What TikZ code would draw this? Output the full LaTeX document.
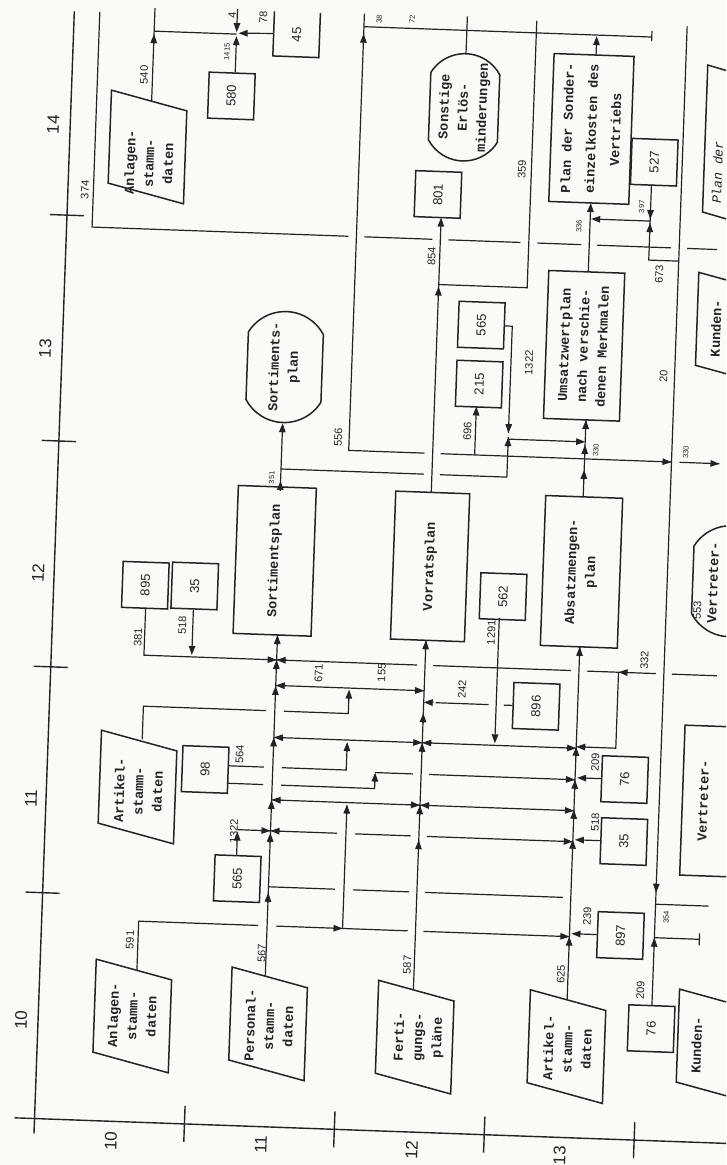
\documentclass[tikz,border=0pt]{standalone}
\usepackage{fontspec}
\usepackage{graphicx}
\setmainfont{Liberation Sans}
\newfontfamily\twf{Liberation Mono}
\usetikzlibrary{arrows.meta,shapes.misc}
\newcommand{\vt}[1]{\rotatebox{90}{\begin{tabular}{@{}c@{}}#1\end{tabular}}}
\newcommand{\vn}[1]{\rotatebox{90}{#1}}
\newcommand{\numf}{\fontsize{13}{13}\selectfont}
\newcommand{\txf}{\twf\bfseries\fontsize{13.5}{19}\selectfont}
\newcommand{\lbf}{\fontsize{11}{11}\selectfont}
\newcommand{\slf}{\fontsize{7.5}{7.5}\selectfont}
\newcommand{\axf}{\fontsize{17}{17}\selectfont}
\newcommand{\prl}[2]{\draw[pl] ({#1-38},{#2-55.5}) -- ({#1+38},{#2-37.5}) -- ({#1+38},{#2+55.5}) -- ({#1-38},{#2+37.5}) -- cycle;}
\newcommand{\tipU}[2]{\draw[ar] (#1,{#2+10}) -- (#1,#2);}
\newcommand{\tipD}[2]{\draw[ar] (#1,{#2-10}) -- (#1,#2);}
\newcommand{\tipL}[2]{\draw[ar] ({#1+10},#2) -- (#1,#2);}
\newcommand{\tipR}[2]{\draw[ar] ({#1-10},#2) -- (#1,#2);}
\definecolor{paper}{RGB}{251,250,246}
\definecolor{ink}{RGB}{35,35,35}
\begin{document}
\begin{tikzpicture}[x=1pt,y=-1pt,color=ink]
\tikzset{
 ln/.style={line width=1.2pt},
 ar/.style={line width=1.2pt, -{Triangle[length=9pt,width=6.5pt]}},
 ax/.style={line width=1.4pt},
 bx/.style={draw, line width=1.5pt, inner sep=0pt, minimum width=46pt, minimum height=46pt, font=\numf},
 tb/.style 2 args={draw, line width=1.5pt, inner sep=0pt, minimum width=#1, minimum height=#2, font=\txf},
 st/.style 2 args={draw, line width=1.5pt, rounded rectangle, rounded rectangle arc length=120, rotate=90, inner sep=0pt, minimum width=#2, minimum height=#1, align=center, font=\txf},
 pl/.style={line width=1.5pt},
 pt/.style={inner sep=0pt, font=\txf},
 lb/.style={rotate=90, inner sep=0pt, font=\lbf},
 sl/.style={rotate=90, inner sep=0pt, font=\slf},
 axl/.style={rotate=90, inner sep=0pt, font=\axf},
}
\useasboundingbox (0,0) rectangle (726,1165);
\fill[paper] (0,0) rectangle (726,1165);
\clip (0,0) rectangle (726,1165);
\begin{scope}[rotate around={-2.06:(363,582)}, transform shape]
% axes
\draw[ax] (54,22) -- (54,1145);
\foreach \t in {226,452,678,904} \draw[ax] (37,\t) -- (71,\t);
\draw[ax] (34,1130) -- (760,1130);
\foreach \t in {204,354,504,654} \draw[ax] (\t,1112) -- (\t,1148);
\node[axl] (y14) at (37,136) {14};
\node[axl] (y13) at (37,360) {13};
\node[axl] (y12) at (38,585) {12};
\node[axl] (y11) at (39,810) {11};
\node[axl] (y10) at (37,1032) {10};
\node[axl] (x10) at (131,1150) {10};
\node[axl] (x11) at (281,1148) {11};
\node[axl] (x12) at (432,1148) {12};
\node[axl] (x13) at (580,1148) {13};
% parallelograms
\prl{132}{155} \node[pt] (p1) at (135,171) {\vt{Anlagen-\\stamm-\\daten}};
\prl{145}{795} \node[pt] (p2) at (147,799) {\vt{Artikel-\\stamm-\\daten}};
\prl{148}{1024} \node[pt] (p3) at (149,1024) {\vt{Anlagen-\\stamm-\\daten}};
\prl{284}{1027} \node[pt] (p4) at (286,1029) {\vt{Personal-\\stamm-\\daten}};
\prl{431}{1035} \node[pt] (p5) at (435,1035) {\vt{Ferti-\\gungs-\\pläne}};
\prl{583}{1039} \node[pt] (p6) at (585,1041) {\vt{Artikel-\\stamm-\\daten}};
\prl{732}{1033} \node[pt] (p7) at (713,1033) {\vn{Kunden-}};
\prl{725.5}{316} \node[pt] (p8) at (706.5,316) {\vn{Kunden-}};
\draw[pl] (740,66) -- (689,53) -- (689,200) -- (740,213);
\node[pt, font=\twf\itshape\fontsize{13}{19}\selectfont] (p9) at (702.5,160) {\vn{Plan der}};
% boxes
\node[bx] (b580) at (214,101) {\vn{580}};
\draw[pl] (254,15) -- (254,59.5) -- (300,59.5) -- (300,15);
\node[pt, font=\numf] (b45) at (277,37.5) {\vn{45}};
\node[tb={78pt}{148pt}] (sortp) at (274,564) {\vn{Sortimentsplan}};
\node[tb={74pt}{148pt}] (vorr) at (429.5,564) {\vn{Vorratsplan}};
\node[tb={77pt}{150pt}] (absm) at (581,564) {\vt{Absatzmengen-\\plan}};
\node[st={75pt}{111pt}] (sortst) at (277,370) {Sortiments-\\plan};
\node[st={69pt}{105pt}] (sonst) at (447,104) {Sonstige\\Erlös-\\minderungen};
\node[bx] (b801) at (424,192) {\vn{801}};
\node[bx] (b565a) at (472,321) {\vn{565}};
\node[bx] (b215) at (472,380) {\vn{215}};
\node[tb={76pt}{148pt}] (umsw) at (575.5,338) {\vt{Umsatzwertplan\\nach verschie-\\denen Merkmalen}};
\node[tb={80pt}{148pt}, font=\twf\bfseries\fontsize{13.5}{24}\selectfont] (sond) at (575,121) {\vt{Plan der Sonder-\\einzelkosten des\\Vertriebs}};
\node[bx] (b527) at (639,152) {\vn{527}};
\node[bx] (b895) at (145.6,593) {\vn{895}};
\node[bx] (b35a) at (195,592) {\vn{35}};
\node[bx] (b562) at (503.5,591.5) {\vn{562}};
\node[bx] (b896) at (540.5,700) {\vn{896}};
\node[bx] (b98) at (212,775) {\vn{98}};
\node[bx] (b565b) at (248,883) {\vn{565}};
\node[bx] (b76a) at (631.6,770) {\vn{76}};
\node[bx] (b35b) at (633,832) {\vn{35}};
\node[bx] (b897) at (633,926) {\vn{897}};
\node[bx] (b76b) at (667,1018) {\vn{76}};
\node[tb={77pt}{150pt}] (vert1) at (728.5,788.5) {};
\node[pt] (vert1t) at (711,788.5) {\vn{Vertreter-}};
\node[st={75pt}{111pt}] (vert2) at (730,568) {};
\node[pt] (vert2t) at (713,570) {\vn{Vertreter-}};
% top left cluster
\coordinate (a540) at (134.5,109);
\draw[ln] (a540) -- (134.5,16);
\tipU{134.5}{42}
\draw[ln] (134.5,39) -- (217,39);
\draw[ar] (217,14) -- (217,37);
\draw[ar] (b580.north) ++(3,0) -- (217,41);
\draw[ar] (254,37) -- (219,38);
\node[lb] (l540) at (126,83) {540};
\node[lb] (l374) at (71,200) {374};
\node[lb] (l4) at (212,20) {4};
\node[lb] (l78) at (243,21) {78};
\node[sl] (l1415) at (208,57) {1415};
% 374 line
\draw[ln] (79.5,22) -- (79.5,237) -- (336,237);
\draw[ln] (352,237) -- (420,237);
\draw[ln] (436,237) -- (508,237);
\draw[ln] (525,237) -- (569,237);
\draw[ln] (585,237) -- (659,237);
\draw[ln] (675,237) -- (705,237);
% 556 line
\draw[ln] (344,14) -- (344,451) -- (420,451);
\draw[ln] (436,451) -- (667,451);
\tipR{667}{451}
\draw[ln] (675,451) -- (715,451);
\tipR{715}{451}
\tipU{344}{34}
\node[lb] (l556) at (333,438) {556};
\draw[ar] (470,451) -- (470,402.5);
\node[lb] (l696) at (462,428) {696};
% top line
\draw[ln] (344,27) -- (632,27);
\draw[ln] (632,21) -- (632,31);
\draw[ln] (sonst.east) -- (447,13);
\draw[ar] (577,47) -- (577,28);
\node[sl] (l38) at (359,19) {38};
\node[sl] (l72) at (392,18) {72};
% 359
\draw[ln] (516.5,15) -- (516.5,282) -- (428,282);
\tipU{428}{284}
\node[lb] (l359) at (507,164) {359};
% Vorrat output
\draw[ar] (428,490) -- (428,215);
\node[lb] (l854) at (420,254) {854};
% Sortimentsplan output
\draw[ar] (277,490) -- (sortst.west);
\tipU{277}{484}
\node[sl] (l351) at (268,481) {351};
\draw[ln] (277,472) -- (420,472);
\draw[ln] (436,472) -- (503,472) -- (503,432);
\draw[ln] (b565a.east) -- (503,321) -- (503,428);
\tipD{503}{428}
\tipU{503}{432}
\draw[ar] (503,434) -- (580,434);
\node[lb] (l1322a) at (521,357) {1322};
% Absatz output
\draw[ln] (580,489) -- (580,412);
\tipU{580}{412}
\tipU{580}{437}
\tipU{580}{462}
\node[sl] (l330a) at (591,442) {330};
\node[sl] (l330b) at (681,441) {330};
% Umsatz -> Sonder
\draw[ar] (577,264) -- (577,195);
\draw[ar] (637,211) -- (578,211);
\node[sl] (l336) at (566,219) {336};
\draw[ln] (637,174.5) -- (637,250) -- (667,250);
\tipD{637}{209}
\tipU{637}{213}
\node[sl] (l397) at (628,197) {397};
\node[lb] (l673) at (648,264) {673};
% 20 line
\draw[ln] (667,15) -- (b76b.north);
\tipD{667}{882}
\tipU{667}{927}
\draw[ln] (667,893.5) -- (720,893.5);
\draw[ln] (667,927) -- (712,927);
\draw[ln] (712,921) -- (712,933);
\node[lb] (l20) at (656,366) {20};
\node[sl] (l354) at (678,906) {354};
\node[lb] (l209b) at (655,980) {209};
% main flows
\draw[ln] (279.5,979) -- (279.5,638);
\foreach \v in {896,836,803,740.5,689,663,638} {\tipU{279.5}{\v}}
\draw[ln] (428,988) -- (428,638);
\foreach \v in {838,803,740.5,711,638} {\tipU{428}{\v}}
\draw[ln] (582,992) -- (582,639);
\foreach \v in {929,832,802,772,739,639} {\tipU{582}{\v}}
\node[lb] (l567) at (275,957) {567};
\node[lb] (l587) at (421,963) {587};
\node[lb] (l625) at (575,967) {625};
% H1
\draw[ln] (146.7,616) -- (146.7,663) -- (420,663);
\draw[ln] (436,663) -- (574,663);
\draw[ln] (590,663) -- (659,663);
\draw[ln] (675,663) -- (720,663);
\draw[ar] (194.5,616) -- (194.5,661);
\tipR{279.5}{663}
\tipL{279.5}{663}
\node[lb] (l381) at (140,645) {381};
\node[lb] (l518a) at (184,632) {518};
\draw[ln] (621.6,663) -- (621.6,739) -- (590,739);
\tipL{582}{739}
\tipL{621.6}{663}
\node[lb] (l332) at (647,650) {332};
% H2
\draw[ln] (279.5,688.5) -- (428,688.5);
\tipL{279.5}{688.5}
\tipR{428}{688.5}
\draw[ln] (148,747) -- (148,714) -- (270.5,714);
\draw[ln] (288.5,714) -- (353,714) -- (353,692);
\tipU{353}{690}
\node[lb] (l671) at (322,675) {671};
\node[lb] (l155) at (385,672) {155};
% 242
\draw[ln] (b896.west) -- (508,700);
\draw[ln] (493,700) -- (440,700);
\tipL{428}{700}
\node[lb] (l242) at (466,686) {242};
% H3
\draw[ln] (279.5,740.5) -- (582,740.5);
\tipL{279.5}{740.5}
\tipR{428}{740.5}
\tipL{428}{740.5}
\tipR{582}{740.5}
\draw[ar] (500.5,613) -- (500.5,738.5);
\node[lb] (l1291) at (493,628) {1291};
\draw[ln] (235,770.5) -- (270.5,770.5);
\draw[ln] (288.5,770.5) -- (353,770.5) -- (353,744);
\tipU{353}{742.5}
\node[lb] (l564) at (246,759) {564};
% H4
\draw[ln] (235,788) -- (270.5,788);
\draw[ln] (288.5,788) -- (382,788) -- (382,774);
\tipU{382}{772}
\draw[ln] (382,772) -- (420,772);
\draw[ln] (436,772) -- (582,772);
\tipR{582}{772}
\draw[ar] (b76a.west) -- (584,770);
\node[lb] (l209a) at (601.5,754) {209};
% H4'
\draw[ln] (279.5,803) -- (582,803);
\tipL{279.5}{803}
\tipR{428}{803}
\tipL{428}{803}
\tipR{582}{803}
\draw[ln] (355,929) -- (355,806);
\tipU{355}{805}
% H5
\draw[ln] (246.5,834) -- (346,834);
\draw[ln] (364,834) -- (420,834);
\draw[ln] (436,834) -- (582,834);
\draw[ar] (246.5,859.5) -- (246.5,836);
\tipR{279.5}{834}
\tipL{279.5}{834}
\tipR{582}{834}
\draw[ar] (b35b.west) -- (584,832);
\node[lb] (l1322b) at (243,836) {1322};
\node[lb] (l518b) at (603.6,814) {518};
% H6
\draw[ln] (279.5,890) -- (346,890);
\draw[ln] (364,890) -- (420,890);
\draw[ln] (436,890) -- (574,890);
% H7 (591)
\draw[ln] (151,978) -- (151,929) -- (270.5,929);
\draw[ln] (288.5,929) -- (420,929);
\draw[ln] (436,929) -- (582,929);
\tipR{355}{929}
\tipR{582}{929}
\draw[ar] (b897.west) -- (584,926);
\node[lb] (l591) at (143,948) {591};
\node[lb] (l239) at (599,908) {239};
\node[lb] (l553) at (698,598) {553};
\end{scope}
\end{tikzpicture}
\end{document}
